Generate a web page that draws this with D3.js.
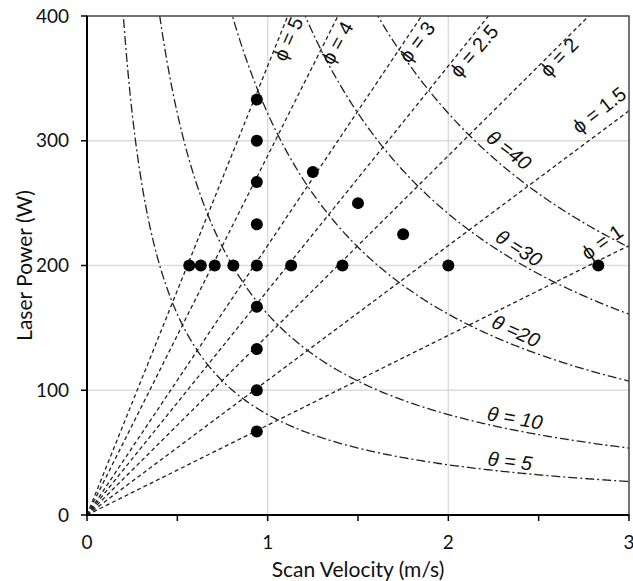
<!DOCTYPE html>
<html>
<head>
<meta charset="utf-8">
<script src="https://cdn.jsdelivr.net/npm/d3@7"></script>
<style>
  body { margin: 0; background: #fff; }
</style>
</head>
<body>
<div class="visArea"></div>
<script>
// Set up size
var width = 633;
var height = 581;
var margin = {left: 87, right: 4, top: 16, bottom: 66};

// Measured points (scan velocity in m/s, laser power in W)
var dotVelocity = [0.94, 0.94, 0.94, 0.94, 0.94, 0.94, 0.94, 0.94, 0.94,
  0.566, 0.63, 0.707, 0.81, 1.13, 1.414, 2.0, 2.83,
  1.25, 1.5, 1.75];
var dotPower = [333, 300, 267, 233, 200, 167, 133, 100, 67,
  200, 200, 200, 200, 200, 200, 200, 200,
  275, 250, 225];

// iso-phi lines: P = phiSlope * phi * v
var phiValues = [1, 1.5, 2, 2.5, 3, 4, 5];
var phiSlope = 72;
var phiLabelV = [2.851, 2.834, 2.613, 2.142, 1.827, 1.384, 1.113];
var phiLabelP = [218.8, 324.6, 367, 372, 379.2, 378.4, 381.6];
var phiLabelAngle = [35, 38, 46, 49, 53, 61, 66];

// iso-theta curves: P = thetaConst * theta / v
var thetaValues = [5, 10, 20, 30, 40];
var thetaConst = 16.1;
var thetaLabelV = [2.341, 2.369, 2.374, 2.391, 2.336];
var thetaLabelP = [43.3, 77.8, 147.5, 214, 292.6];
var thetaLabelAngle = [7, 10, 25, 33, 38];
var thetaLabelText = ['\u03b8 = 5', '\u03b8 = 10', '\u03b8 =20', '\u03b8 =30', '\u03b8 =40'];

var xTicks = [0, 1, 2, 3];
var xMinorTicks = [0.5, 1.5, 2.5];
var yTicks = [0, 100, 200, 300, 400];

var x = d3.scaleLinear().domain([0, 3]).range([margin.left, width - margin.right]);
var y = d3.scaleLinear().domain([0, 400]).range([height - margin.bottom, margin.top]);

var svg = d3.select('.visArea')
  .append('svg')
  .attr('width', width)
  .attr('height', height)
  .style('display', 'block');

svg.append('clipPath')
  .attr('id', 'plotClip')
  .append('rect')
  .attr('x', x(0))
  .attr('y', y(400))
  .attr('width', x(3) - x(0))
  .attr('height', y(0) - y(400));

// Grid lines
svg.selectAll('.vgrid')
  .data([1, 2])
  .enter().append('line')
  .attr('x1', d => x(d)).attr('x2', d => x(d))
  .attr('y1', y(0)).attr('y2', y(400))
  .style('stroke', '#dcdcdc').style('stroke-width', 1.5);

svg.selectAll('.hgrid')
  .data([100, 200, 300])
  .enter().append('line')
  .attr('x1', x(0)).attr('x2', x(3))
  .attr('y1', d => y(d)).attr('y2', d => y(d))
  .style('stroke', '#dcdcdc').style('stroke-width', 1.5);

var plot = svg.append('g').attr('clip-path', 'url(#plotClip)');

// phi lines (dashed)
var line = d3.line().x(d => x(d[0])).y(d => y(d[1]));
phiValues.forEach(function(phi) {
  plot.append('path')
    .datum([[0, 0], [3, phiSlope * phi * 3]])
    .attr('d', line)
    .style('fill', 'none')
    .style('stroke', '#222')
    .style('stroke-width', 1.3)
    .style('stroke-dasharray', '4,3');
});

// theta curves (dash-dot)
var vSamples = d3.range(0.05, 3.001, 0.01);
thetaValues.forEach(function(theta) {
  plot.append('path')
    .datum(vSamples.map(v => [v, thetaConst * theta / v]))
    .attr('d', line)
    .style('fill', 'none')
    .style('stroke', '#222')
    .style('stroke-width', 1.3)
    .style('stroke-dasharray', '9,3,2,3');
});

// Data points
svg.selectAll('circle')
  .data(dotVelocity.map((v, i) => ({v: v, p: dotPower[i]})))
  .enter().append('circle')
  .attr('cx', d => x(d.v))
  .attr('cy', d => y(d.p))
  .attr('r', 6)
  .style('fill', '#000');

// Labels
phiValues.forEach(function(phi, i) {
  svg.append('text')
    .attr('transform', 'translate(' + x(phiLabelV[i]) + ',' + y(phiLabelP[i]) + ') rotate(' + (-phiLabelAngle[i]) + ')')
    .attr('text-anchor', 'middle')
    .attr('dominant-baseline', 'central')
    .style('font-family', '"Liberation Sans", Arial, sans-serif')
    .style('font-size', '20px')
    .style('fill', '#111')
    .text('\u03d5 = ' + phi);
});

thetaValues.forEach(function(theta, i) {
  svg.append('text')
    .attr('transform', 'translate(' + x(thetaLabelV[i]) + ',' + y(thetaLabelP[i]) + ') rotate(' + thetaLabelAngle[i] + ')')
    .attr('text-anchor', 'middle')
    .attr('dominant-baseline', 'central')
    .style('font-family', '"Liberation Sans", Arial, sans-serif')
    .style('font-style', 'italic')
    .style('font-size', '20px')
    .style('fill', '#111')
    .text(thetaLabelText[i]);
});

// Frame
svg.append('rect')
  .attr('x', x(0)).attr('y', y(400))
  .attr('width', x(3) - x(0)).attr('height', y(0) - y(400))
  .style('fill', 'none').style('stroke', '#444').style('stroke-width', 1.5);

svg.append('line')
  .attr('x1', x(0)).attr('x2', x(0)).attr('y1', y(400)).attr('y2', y(0))
  .style('stroke', '#000').style('stroke-width', 2);
svg.append('line')
  .attr('x1', x(0)).attr('x2', x(3)).attr('y1', y(0)).attr('y2', y(0))
  .style('stroke', '#000').style('stroke-width', 2);

// Ticks
svg.selectAll('.xtick')
  .data(xTicks.concat(xMinorTicks))
  .enter().append('line')
  .attr('x1', d => x(d)).attr('x2', d => x(d))
  .attr('y1', y(0)).attr('y2', y(0) + 6)
  .style('stroke', '#000').style('stroke-width', 1.5);

svg.selectAll('.ytick')
  .data(yTicks)
  .enter().append('line')
  .attr('x1', x(0) - 6).attr('x2', x(0))
  .attr('y1', d => y(d)).attr('y2', d => y(d))
  .style('stroke', '#000').style('stroke-width', 1.5);

var tickFont = 'Lato, "Open Sans", sans-serif';

svg.selectAll('.xlabel')
  .data(xTicks)
  .enter().append('text')
  .attr('x', d => x(d))
  .attr('y', y(0) + 34)
  .attr('text-anchor', 'middle')
  .style('font-family', tickFont)
  .style('font-size', '19px')
  .style('fill', '#111')
  .text(d => d);

svg.selectAll('.ylabel')
  .data(yTicks)
  .enter().append('text')
  .attr('x', x(0) - 18)
  .attr('y', d => y(d))
  .attr('dy', '0.35em')
  .attr('text-anchor', 'end')
  .style('font-family', tickFont)
  .style('font-size', '19px')
  .style('fill', '#111')
  .text(d => d);

// Axis titles
svg.append('text')
  .attr('x', (x(0) + x(3)) / 2)
  .attr('y', 577)
  .attr('text-anchor', 'middle')
  .style('font-family', tickFont)
  .style('font-size', '21px')
  .style('fill', '#111')
  .text('Scan Velocity (m/s)');

svg.append('text')
  .attr('transform', 'translate(32,' + (y(0) + y(400)) / 2 + ') rotate(-90)')
  .attr('text-anchor', 'middle')
  .style('font-family', tickFont)
  .style('font-size', '21px')
  .style('fill', '#111')
  .text('Laser Power (W)');
</script>
</body>
</html>
